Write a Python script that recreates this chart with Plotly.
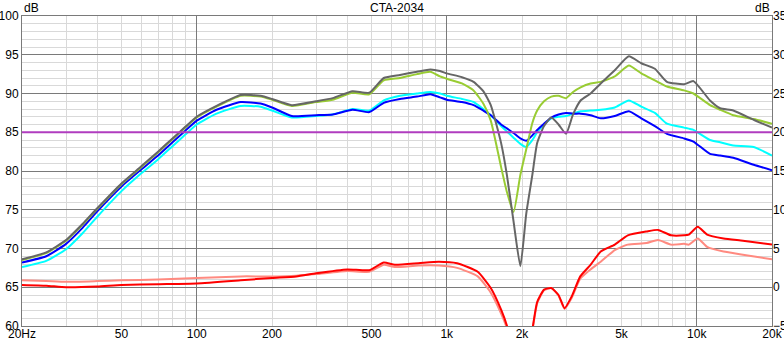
import plotly.graph_objects as go

# ---- Frequency response data (dB SPL, left axis) ----
freq = [20, 25, 30, 35, 40, 50, 60, 70, 80, 90, 100, 120, 150, 180, 200, 240,
        300, 350, 420, 490, 560, 650, 760, 860, 940, 1000, 1150, 1280, 1400,
        1500, 1650, 1740, 1850, 1970, 2080, 2200, 2300, 2450, 2620, 2800, 3000,
        3200, 3430, 3760, 4130, 4700, 5350, 6000, 6800, 7600, 8900, 9700,
        11300, 12400, 14000, 16900, 20000]

on_axis = [68.6, 69.5, 71.1, 73.2, 75.2, 78.4, 80.6, 82.5, 84.2, 85.7, 87.0,
           88.4, 89.8, 89.7, 89.3, 88.5, 89.0, 89.4, 90.3, 90.1, 92.0, 92.4,
           92.8, 93.1, 92.9, 92.6, 92.1, 91.5, 90.3, 88.5, 83.6, 79.5, 73.5,
           67.7, 74.5, 79.5, 83.6, 85.8, 86.9, 86.0, 84.8, 87.3, 89.1, 90.0,
           91.3, 93.0, 94.8, 93.9, 93.2, 91.5, 91.2, 91.6, 89.1, 88.1, 87.8,
           86.6, 85.6]

listening_window = [68.5, 69.4, 71.0, 73.1, 75.1, 78.3, 80.5, 82.4, 84.1, 85.6,
                    86.9, 88.3, 89.7, 89.6, 89.2, 88.4, 88.9, 89.2, 90.1, 89.9,
                    91.7, 92.0, 92.5, 92.8, 92.2, 91.9, 91.3, 90.4, 88.7, 86.5,
                    80.5, 77.3, 74.7, 79.5, 82.8, 86.2, 87.8, 89.0, 89.6, 89.7,
                    89.4, 90.2, 90.8, 91.3, 91.5, 92.2, 93.6, 92.6, 91.7, 90.9,
                    90.4, 90.0, 88.5, 87.9, 87.2, 86.7, 86.1]

early_reflections = [68.2, 69.0, 70.6, 72.7, 74.8, 78.0, 80.2, 82.0, 83.7, 85.2,
                     86.5, 87.9, 88.9, 88.7, 88.2, 87.1, 87.2, 87.3, 87.9, 87.6,
                     88.8, 89.3, 89.6, 89.9, 89.5, 89.2, 88.9, 88.5, 87.8, 87.2,
                     86.0, 85.5, 84.9, 84.2, 83.9, 84.6, 85.3, 86.1, 86.9, 87.3,
                     87.5, 87.4, 87.4, 87.2, 86.8, 87.1, 87.7, 86.8, 85.8, 84.8,
                     84.2, 83.8, 82.2, 82.0, 81.7, 80.8, 80.1]

sound_power = [67.6, 68.4, 69.9, 72.0, 74.1, 77.4, 79.7, 81.5, 83.2, 84.7, 86.0,
               87.4, 88.4, 88.3, 87.8, 86.9, 87.1, 87.3, 88.0, 87.8, 89.1, 89.7,
               90.0, 90.2, 90.0, 89.7, 89.3, 88.9, 88.0, 87.2, 85.8, 85.1, 84.3,
               83.5, 83.1, 84.0, 85.0, 86.0, 86.8, 87.0, 87.1, 87.4, 87.7, 87.8,
               87.9, 88.2, 89.1, 88.3, 87.5, 86.1, 85.6, 85.3, 84.0, 83.7, 83.3,
               83.1, 82.0]

# ---- Directivity index data (dB, right axis) ----
freq_di = [20, 25, 30, 40, 50, 70, 100, 150, 200, 250, 300, 400, 490, 560, 620,
           770, 930, 1100, 1330, 1500, 1650, 1750, 1900, 2050, 2200, 2300, 2450,
           2620, 2800, 2960, 3160, 3420, 3760, 4130, 4700, 5300, 6300, 7000,
           7900, 8900, 9300, 10100, 11000, 12800, 15300, 20000]

sp_di = [0.3, 0.2, 0.0, 0.1, 0.3, 0.4, 0.5, 0.9, 1.2, 1.4, 1.8, 2.3, 2.2, 3.2,
         2.9, 3.1, 3.3, 3.1, 2.0, -0.1, -2.9, -5.2, -10.0, -12.0, -5.5, -1.9,
         -0.3, -0.1, -1.0, -2.7, -1.2, 1.4, 2.9, 4.6, 5.5, 6.7, 7.2, 7.4, 6.7,
         6.7, 6.8, 7.8, 6.8, 6.3, 6.0, 5.5]

er_di = [0.9, 0.8, 0.7, 0.8, 0.9, 1.0, 1.2, 1.4, 1.4, 1.5, 1.7, 2.1, 2.0, 2.9,
         2.6, 2.8, 2.8, 2.5, 1.4, -0.7, -3.4, -5.5, -10.0, -12.0, -5.7, -2.1,
         -0.4, -0.1, -1.1, -2.8, -1.4, 1.1, 2.3, 3.3, 4.8, 5.5, 5.7, 6.1, 5.5,
         5.6, 5.5, 6.3, 5.2, 4.6, 4.2, 3.6]

# ---- Reference level ----
ref_freq = [20, 20000]
ref_level = [85, 85]

# ---- Axis tick definitions ----
x_tick_vals = [20, 50, 100, 200, 500, 1000, 2000, 5000, 10000, 20000]
x_tick_text = ["20Hz", "50", "100", "200", "500", "1k", "2k", "5k", "10k", "20k"]
x_decades = [100, 1000, 10000]
x_minor = [m * d for d in (10, 100, 1000, 10000) for m in range(2, 10)
           if 20 <= m * d <= 20000 and m * d not in x_decades] + [20000]
y_left_ticks = list(range(60, 101, 5))
y_right_ticks = list(range(-5, 36, 5))

FONT = "Liberation Sans"
DARK_GRID = "#7a7a7a"
LIGHT_GRID = "#d9d9d9"
SMOOTH = dict(shape="spline", smoothing=0.5)

fig = go.Figure()

fig.add_trace(go.Scatter(x=ref_freq, y=ref_level, xaxis="x2", yaxis="y",
                         mode="lines", line=dict(color="#b03cbf", width=2),
                         hoverinfo="skip"))
fig.add_trace(go.Scatter(x=freq, y=sound_power, mode="lines",
                         line=dict(color="#00ffff", width=2, **SMOOTH),
                         name="Sound Power"))
fig.add_trace(go.Scatter(x=freq, y=early_reflections, mode="lines",
                         line=dict(color="#0000ff", width=2, **SMOOTH),
                         name="Early Reflections"))
fig.add_trace(go.Scatter(x=freq, y=listening_window, mode="lines",
                         line=dict(color="#99cc33", width=2, **SMOOTH),
                         name="Listening Window"))
fig.add_trace(go.Scatter(x=freq, y=on_axis, mode="lines",
                         line=dict(color="#666666", width=2, **SMOOTH),
                         name="On Axis"))
fig.add_trace(go.Scatter(x=freq_di, y=er_di, yaxis="y2", mode="lines",
                         line=dict(color="#ff8a80", width=2, **SMOOTH),
                         name="ER DI"))
fig.add_trace(go.Scatter(x=freq_di, y=sp_di, yaxis="y2", mode="lines",
                         line=dict(color="#ff0000", width=2, **SMOOTH),
                         name="SP DI"))

log_range = [1.3010299956639813, 4.301029995663981]

fig.update_layout(
    width=784, height=341,
    margin=dict(l=22, r=12, t=16, b=15, pad=0),
    paper_bgcolor="white", plot_bgcolor="white",
    showlegend=False,
    font=dict(family=FONT, size=12, color="black"),
    xaxis=dict(
        type="log", range=log_range, tickvals=x_tick_vals, ticktext=x_tick_text,
        showgrid=False, ticks="", zeroline=False, automargin=False,
        ticklabelstandoff=-3,
        showline=True, mirror=True, linecolor=DARK_GRID, linewidth=1,
        minor=dict(tickvals=x_minor, showgrid=True, gridcolor=LIGHT_GRID,
                   gridwidth=1, ticks=""),
    ),
    xaxis2=dict(
        type="log", range=log_range, overlaying="x", side="bottom",
        tickvals=x_decades, showticklabels=False, ticks="", automargin=False,
        showgrid=True, gridcolor=DARK_GRID, gridwidth=1,
        showline=False, zeroline=False,
    ),
    yaxis=dict(
        range=[60, 100], tickvals=y_left_ticks, ticks="", automargin=False,
        showgrid=True, gridcolor=DARK_GRID, gridwidth=1, zeroline=False,
        showline=True, mirror=True, linecolor=DARK_GRID, linewidth=1,
        minor=dict(dtick=1, showgrid=True, gridcolor=LIGHT_GRID, gridwidth=1,
                   ticks=""),
    ),
    yaxis2=dict(
        range=[-5, 35], tickvals=y_right_ticks, overlaying="y", side="right",
        showgrid=False, zeroline=False, ticks="", showline=False,
        automargin=False,
    ),
    annotations=[
        dict(text="CTA-2034", xref="paper", yref="paper", x=0.5, y=1.0,
             yshift=8, xanchor="center", yanchor="middle", showarrow=False,
             font=dict(family=FONT, size=12)),
        dict(text="dB", xref="paper", yref="paper", x=0.0, y=1.0, yshift=8,
             xanchor="left", yanchor="middle", showarrow=False,
             font=dict(family=FONT, size=12)),
        dict(text="dB", xref="paper", yref="paper", x=1.0, y=1.0, yshift=8,
             xanchor="right", yanchor="middle", showarrow=False,
             font=dict(family=FONT, size=12)),
    ],
)

fig.write_html("out.html")
